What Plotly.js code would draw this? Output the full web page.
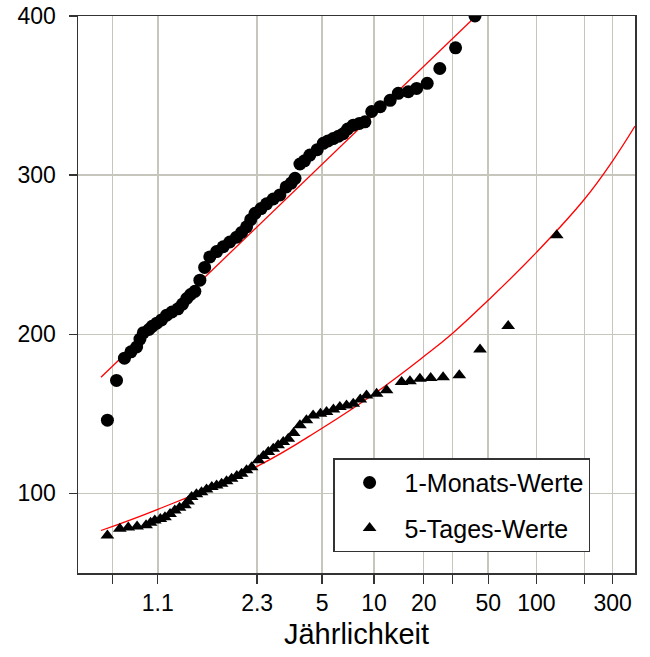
<!DOCTYPE html>
<html>
<head>
<meta charset="utf-8">
<script src="https://cdn.plot.ly/plotly-3.0.1.min.js"></script>
<style>html,body{margin:0;padding:0;background:#fff;}#chart{width:650px;height:657px;}</style>
</head>
<body>
<div id="chart"></div>
<script>
// Jährlichkeit (return period) of each plotted point and its value
const monthT = [1.007,1.013,1.021,1.03,1.040,1.047,1.055,1.07,1.08,1.096,1.115,1.138,1.165,1.20,1.23,1.26,1.29,1.326,1.372,1.42,1.477,1.56,1.65,1.75,1.866,1.96,2.06,2.15,2.25,2.40,2.55,2.75,2.97,3.2,3.4,3.56,3.78,4.0,4.28,4.7,5.08,5.4,5.78,6.2,6.6,7.0,7.55,8.2,8.84,9.7,10.9,12.5,14.0,16.1,18.1,21.0,25.1,31.4,41.4];
const monthVal = [146,171,185,189,192,197,201,203,205,207,209,212,214,216,219,222.5,225,227,234,242,248.6,252,255,258,261,264,267.5,272,276,279,282,285,287.6,292.6,295,298,307,309,312.6,316,320,321.5,323,324.5,326,329,331.4,332.5,333.5,340,343,347,351.4,352.4,354.5,357.7,367,380,400];

const dayT = [1.007,1.016,1.026,1.041,1.062,1.075,1.089,1.11,1.13,1.155,1.181,1.21,1.246,1.27,1.298,1.34,1.388,1.44,1.50,1.56,1.627,1.70,1.78,1.87,1.96,2.06,2.17,2.33,2.46,2.60,2.75,2.91,3.09,3.28,3.5,3.78,4.1,4.46,4.9,5.3,5.8,6.31,6.9,7.55,8.3,9.04,10.37,11.9,14.66,16.48,18.95,22.06,26.3,33.1,44.5,66.6,133.8];
const dayVal = [73.6,77.8,78.6,79.2,80,81.5,83,84,85.1,87,89.3,91,92.5,95,97.7,99.5,100.8,102.5,104,105,106.1,107.7,109.3,111,112.4,114.5,116.5,120.8,123.5,126,128,130.2,132.3,134.4,138,142.8,146,149,150,151.1,152.7,154.3,155.3,156.4,159,161.6,162.7,164.8,170,170.5,172.1,172.5,173,174.2,190.4,205.2,262.3];

// fitted curves
const fitMonthT = [1.0043, 42];
const fitMonthVal = [173, 400];
const fitDayT = [1.0043,1.1,2.3,5,10,20,30,50,100,200,300,414];
const fitDayVal = [76.7,90,117,141,162.5,186,200.5,221.4,251.5,285,309,330.8];

// axis ticks
const tickT = [1.01,1.1,2.3,5,10,20,30,50,100,200,300];
const tickText = ['','1.1','2.3','5','10','20','','50','100','','300'];
const yTicks = [100,200,300,400];
const xRangeT = [1.0005, 414];

const seriesNames = ['1-Monats-Werte','5-Tages-Werte'];
const xTitle = 'Jährlichkeit';

// Gumbel probability paper: reduced variate of the return period
function gumbel(T){ return -Math.log(-Math.log(1 - 1/T)); }

const FONT = 'Liberation Sans, Arial, sans-serif';

const traces = [
  {x: fitMonthT.map(gumbel), y: fitMonthVal, mode:'lines', line:{color:'#ff0000', width:1.3}, showlegend:false, hoverinfo:'skip'},
  {x: fitDayT.map(gumbel), y: fitDayVal, mode:'lines', line:{color:'#ff0000', width:1.3, shape:'spline', smoothing:1.2}, showlegend:false, hoverinfo:'skip'},
  {x: monthT.map(gumbel), y: monthVal, mode:'markers', name: seriesNames[0], legendgroup:'a',
   marker:{symbol:'circle', size:13, color:'#000'}},
  {x: dayT.map(gumbel), y: dayVal, mode:'markers', name: seriesNames[1], legendgroup:'b',
   marker:{symbol:'triangle-up', size:12, color:'#000'}}
];

const layout = {
  width:650, height:657,
  margin:{l:78, r:15, t:16, b:84},
  paper_bgcolor:'#fff', plot_bgcolor:'#fff',
  font:{family:FONT, color:'#000', size:23},
  showlegend:true,
  legend:{x:0.458, y:0.206, xanchor:'left', yanchor:'top', bgcolor:'#fff',
          bordercolor:'#333', borderwidth:1.5, font:{family:FONT, size:25, color:'#000'},
          itemwidth:60, tracegroupgap:10, traceorder:'grouped'},
  xaxis:{type:'linear', range: xRangeT.map(gumbel),
         tickmode:'array', tickvals: tickT.map(gumbel), ticktext: tickText,
         showgrid:true, gridcolor:'#c6c6bc', gridwidth:1.5,
         ticks:'outside', ticklen:9, tickwidth:1.3, tickcolor:'#333',
         showline:true, linecolor:'#333', linewidth:1.5, mirror:true,
         zeroline:false, tickfont:{size:23},
         title:{text:xTitle, font:{size:29}, standoff:8}},
  yaxis:{range:[50,400], tickmode:'array', tickvals:yTicks,
         showgrid:true, gridcolor:'#c6c6bc', gridwidth:1.5,
         ticks:'outside', ticklen:8, tickwidth:1.3, tickcolor:'#333',
         showline:true, linecolor:'#333', linewidth:1.5, mirror:true,
         zeroline:false, tickfont:{size:23}, ticklabelstandoff:8}
};

Plotly.newPlot('chart', traces, layout, {displayModeBar:false, staticPlot:true});
</script>
</body>
</html>
